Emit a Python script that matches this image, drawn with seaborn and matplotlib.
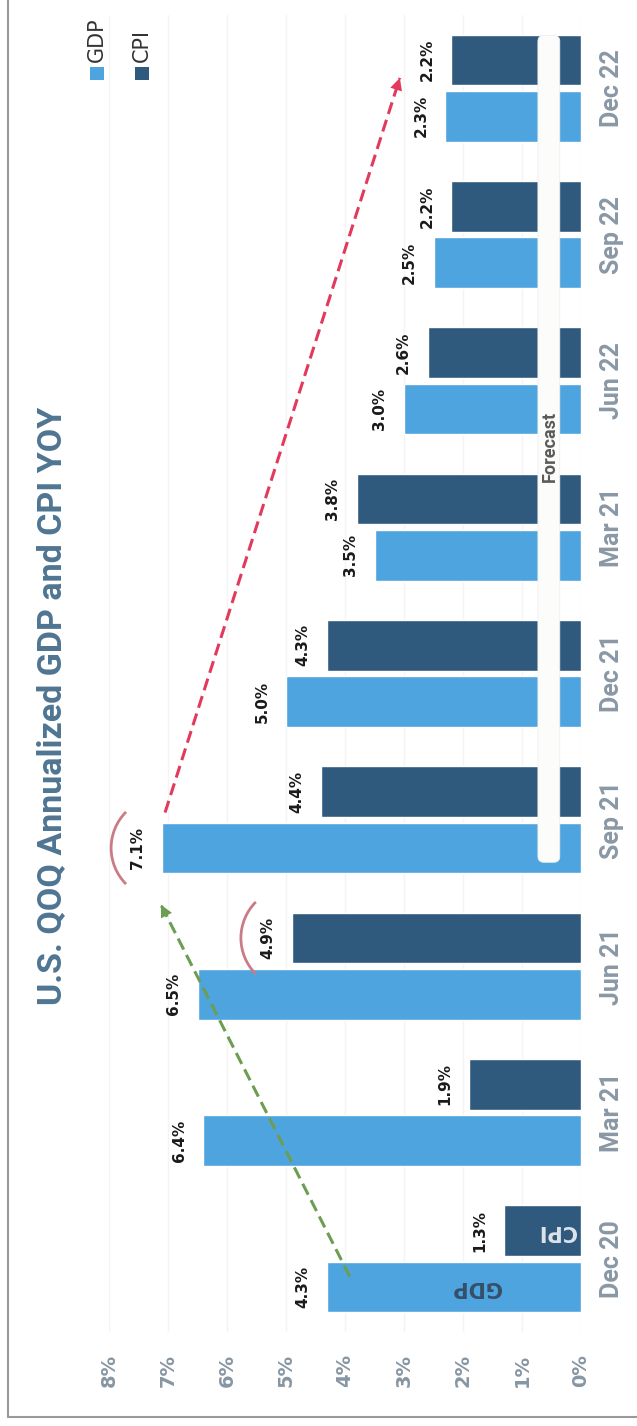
import matplotlib
matplotlib.use("Agg")
import matplotlib.pyplot as plt
import matplotlib.transforms as mtransforms
from matplotlib.patches import Arc, Rectangle, FancyBboxPatch
from matplotlib.lines import Line2D
import seaborn as sns
import pandas as pd

# === DATA (chronological) ===
quarters = ["Q4-20", "Q1-21", "Q2-21", "Q3-21", "Q4-21", "Q1-22", "Q2-22", "Q3-22", "Q4-22"]
tick_labels = ["Dec 20", "Mar 21", "Jun 21", "Sep 21", "Dec 21", "Mar 21", "Jun 22", "Sep 22", "Dec 22"]
gdp = [4.3, 6.4, 6.5, 7.1, 5.0, 3.5, 3.0, 2.5, 2.3]
cpi = [1.3, 1.9, 4.9, 4.4, 4.3, 3.8, 2.6, 2.2, 2.2]
value_ticks = [0, 1, 2, 3, 4, 5, 6, 7, 8]
value_tick_labels = ["0%", "1%", "2%", "3%", "4%", "5%", "6%", "7%", "8%"]

df = pd.DataFrame({
    "quarter": quarters * 2,
    "value": gdp + cpi,
    "series": ["GDP"] * len(quarters) + ["CPI"] * len(quarters),
})

GDP_COLOR = "#4ea4df"
CPI_COLOR = "#2f5a7e"
palette = {"GDP": GDP_COLOR, "CPI": CPI_COLOR}
CONDENSED = ["Roboto", "DejaVu Sans"]

# chart is drawn turned a quarter turn: newest quarter on top
order = quarters[::-1]
pos = {q: i for i, q in enumerate(order)}

sns.set_theme(style="white")
plt.rcParams["font.family"] = ["DejaVu Sans"]

W, H = 637, 1426
fig = plt.figure(figsize=(W / 100, H / 100), dpi=100)
ax = fig.add_axes([109 / W, (H - 1332) / H, 472 / W, (1332 - 15) / H])

sns.barplot(data=df, y="quarter", x="value", hue="series", order=order,
            hue_order=["CPI", "GDP"], palette=palette, orient="h",
            width=0.77, gap=0.1, legend=False, saturation=1, ax=ax, zorder=2)

ax.set_xlim(8, 0)
ax.set_ylim(8.5, -0.5)
ax.set_xlabel("")
ax.set_ylabel("")
for s in ax.spines.values():
    s.set_visible(False)
ax.grid(axis="x", color="#f4f4f4", lw=1, zorder=0)
ax.grid(axis="y", visible=False)

# value axis (bottom)
ax.set_xticks(value_ticks)
ax.set_xticklabels(value_tick_labels, rotation=90, fontsize=14, fontweight="bold",
                   color="#8796a3")
ax.tick_params(axis="x", length=0, pad=16)

# category axis (right)
ax.yaxis.tick_right()
ax.set_yticks(range(len(order)))
ax.set_yticklabels(tick_labels[::-1], rotation=90, va="center", fontsize=18,
                   fontweight="bold", color="#8a98a5", family=CONDENSED)
ax.tick_params(axis="y", length=0, pad=14)

# data labels
for cont in ax.containers:
    ax.bar_label(cont, fmt="{:.1f}%", padding=12, rotation=90, fontsize=11,
                 fontweight="bold", color="#1a1a1a")

# forecast box
box = FancyBboxPatch((0.36, -0.36), 0.37, 5.65,
                     boxstyle="round,pad=0,rounding_size=0.1", mutation_aspect=0.4,
                     facecolor="#fcfcfa", edgecolor="#eeeeee", lw=0.6, zorder=3)
ax.add_patch(box)
ax.text(0.525, 2.45, "Forecast", rotation=90, ha="center", va="center", fontsize=13,
        fontweight="bold", color="#5a5a5a", family=CONDENSED, zorder=4)

# texts inside first quarter bars
off = 0.77 / 4
ax.text(1.78, pos["Q4-20"] + off, "GDP", rotation=180, ha="center", va="center",
        fontsize=15, fontweight="bold", color="#34506a", zorder=4)
ax.text(0.41, pos["Q4-20"] - off, "CPI", rotation=180, ha="center", va="center",
        fontsize=15, fontweight="bold", color="#dfe4ea", zorder=4)

# arrows
def dashed_arrow(x0, y0, x1, y1, color):
    ax.plot([x0, x1], [y0, y1], ls=(0, (4, 2)), color=color, lw=2.2, zorder=5)
    dx, dy = x1 - x0, y1 - y0
    ax.annotate("", xy=(x1, y1), xytext=(x1 - dx * 0.03, y1 - dy * 0.03),
                arrowprops=dict(arrowstyle="-|>", color=color, lw=0,
                                mutation_scale=22, shrinkA=0, shrinkB=0), zorder=6)

dashed_arrow(gdp[0] - 0.38, pos["Q4-20"] + 0.12, gdp[3] + 0.02, 5.58, "#6c9d52")
dashed_arrow(gdp[3] - 0.05, pos["Q3-21"] - 0.05, 3.07, -0.07, "#e2395c")

# highlight arcs around peaks
for val, y in [(gdp[3], pos["Q3-21"] + off), (cpi[2], pos["Q2-21"] - off)]:
    tr = fig.dpi_scale_trans + mtransforms.ScaledTranslation(val, y, ax.transData)
    ax.add_patch(Arc((0, 0), 1.02, 1.02, theta1=135, theta2=225, transform=tr,
                     color="#c97c86", lw=2, zorder=5))

# title
fig.text(52 / W, 1 - 706 / H, "U.S. QOQ Annualized GDP and CPI YOY", rotation=90,
         ha="center", va="center", fontsize=24.5, fontweight="bold", color="#4f7592",
         family=CONDENSED)

# legend
for x, name, col in [(90, "GDP", GDP_COLOR), (135, "CPI", CPI_COLOR)]:
    fig.add_artist(Rectangle((x / W, 1 - 80 / H), 14 / W, 13 / H, transform=fig.transFigure,
                             facecolor=col, edgecolor="none"))
    fig.text((x + 7) / W, 1 - 62 / H, name, rotation=90, ha="center", va="bottom",
             fontsize=15, color="#333333")

# frame
fig.add_artist(Line2D([8 / W, 8 / W], [1 - 1417 / H, 1], transform=fig.transFigure,
                      color="#999999", lw=1.5))
fig.add_artist(Line2D([8 / W, 1], [1 - 1417 / H, 1 - 1417 / H], transform=fig.transFigure,
                      color="#999999", lw=1.5))

fig.savefig("out.png", dpi=100, facecolor="white")
